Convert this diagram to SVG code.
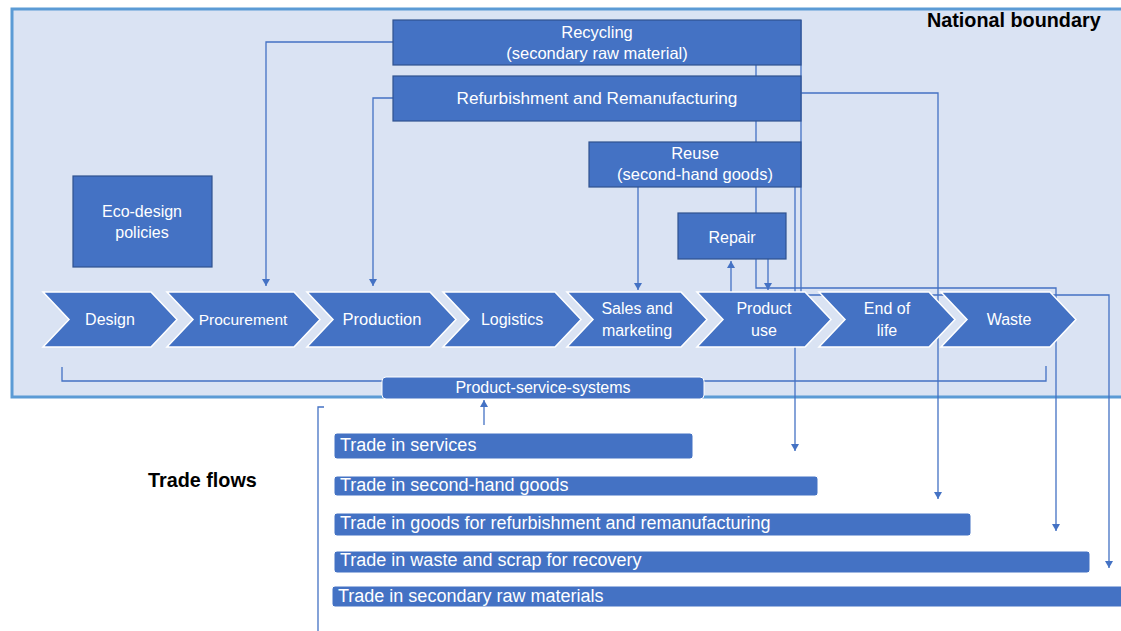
<svg xmlns="http://www.w3.org/2000/svg" width="1121" height="631" viewBox="0 0 1121 631">
<style>
text{font-family:"Liberation Sans",Arial,sans-serif;}
.box{fill:#4472c4;stroke:#2f528f;stroke-width:1.2;}
.chev{fill:#4472c4;stroke:#ffffff;stroke-width:1.5;}
.bar{fill:#4472c4;stroke:#ffffff;stroke-width:1;}
.wt{fill:#ffffff;font-size:16px;text-anchor:middle;}
.bt{fill:#ffffff;font-size:18px;}
.lbl{fill:#000000;font-size:19.8px;font-weight:bold;}
.ln{fill:none;stroke:#4472c4;stroke-width:1.3;}
.arr{fill:none;stroke:#4472c4;stroke-width:1.3;marker-end:url(#ah);}
</style>
<defs>
<marker id="ah" markerUnits="userSpaceOnUse" markerWidth="9" markerHeight="9" refX="7" refY="4" orient="auto">
<path d="M0,0 L7,4 L0,8 Z" fill="#4472c4"/>
</marker>
</defs>
<rect width="1121" height="631" fill="#ffffff"/>
<g id="national-boundary">
<rect x="12" y="9" width="1120" height="388" fill="#dae3f3" stroke="#5b9bd5" stroke-width="3"/>
<text x="927" y="27" class="lbl">National boundary</text>
</g>
<g id="connectors">
<path class="arr" d="M393,42 H266 V286"/>
<path class="arr" d="M393,98 H373 V286"/>
<path class="arr" d="M638,187 V290"/>
<path class="arr" d="M731,292 V261"/>
<path class="arr" d="M768,259 V290"/>
<path class="arr" d="M756,65 V288 H1056 V531"/>
<path class="arr" d="M801,93 H938 V499"/>
<path class="arr" d="M795,187 V451"/>
<path class="arr" d="M801,20 V295 H1109 V568"/>
<path class="ln" d="M62,367 V381 H1046 V366"/>
<path class="arr" d="M484,425 V400"/>
<path class="ln" d="M324,407 H318 V631"/>
</g>
<g id="recycling">
<rect class="box" x="393" y="20" width="408" height="45"/>
<text class="wt" x="597" y="38" style="font-size:16.5px">Recycling</text>
<text class="wt" x="597" y="59" style="font-size:16.5px">(secondary raw material)</text>
</g>
<g id="refurbishment">
<rect class="box" x="393" y="76" width="408" height="45"/>
<text class="wt" x="597" y="104" style="font-size:17.2px">Refurbishment and Remanufacturing</text>
</g>
<g id="reuse">
<rect class="box" x="589" y="142" width="212" height="45"/>
<text class="wt" x="695" y="159" style="font-size:16.5px">Reuse</text>
<text class="wt" x="695" y="180" style="font-size:16.5px">(second-hand goods)</text>
</g>
<g id="repair">
<rect class="box" x="678" y="213" width="108" height="46"/>
<text class="wt" x="732" y="243">Repair</text>
</g>
<g id="eco-design">
<rect class="box" x="73" y="176" width="139" height="91"/>
<text class="wt" x="142" y="217">Eco-design</text>
<text class="wt" x="142" y="238">policies</text>
</g>
<g id="design">
<path class="chev" d="M43,292 H151 L177,319.5 L151,347 H43 L69,319.5 Z"/>
<text class="wt" x="110" y="325">Design</text>
</g>
<g id="procurement">
<path class="chev" d="M167,292 H294 L320,319.5 L294,347 H167 L193,319.5 Z"/>
<text class="wt" x="243" y="325" style="font-size:15.5px">Procurement</text>
</g>
<g id="production">
<path class="chev" d="M307,292 H430 L456,319.5 L430,347 H307 L333,319.5 Z"/>
<text class="wt" x="382" y="325" style="font-size:16.5px">Production</text>
</g>
<g id="logistics">
<path class="chev" d="M443,292 H555 L581,319.5 L555,347 H443 L469,319.5 Z"/>
<text class="wt" x="512" y="325">Logistics</text>
</g>
<g id="sales-marketing">
<path class="chev" d="M567,292 H681 L707,319.5 L681,347 H567 L593,319.5 Z"/>
<text class="wt" x="637" y="314">Sales and</text>
<text class="wt" x="637" y="336">marketing</text>
</g>
<g id="product-use">
<path class="chev" d="M697,292 H805 L831,319.5 L805,347 H697 L723,319.5 Z"/>
<text class="wt" x="764" y="314">Product</text>
<text class="wt" x="764" y="336">use</text>
</g>
<g id="end-of-life">
<path class="chev" d="M819,292 H929 L955,319.5 L929,347 H819 L845,319.5 Z"/>
<text class="wt" x="887" y="314">End of</text>
<text class="wt" x="887" y="336">life</text>
</g>
<g id="waste">
<path class="chev" d="M941,292 H1050 L1076,319.5 L1050,347 H941 L967,319.5 Z"/>
<text class="wt" x="1009" y="325">Waste</text>
</g>
<g id="product-service-systems">
<rect class="bar" x="382" y="377" width="322" height="22" rx="4"/>
<text class="wt" x="543" y="393">Product-service-systems</text>
</g>
<g id="trade-flows-label">
<text x="148" y="487" class="lbl">Trade flows</text>
</g>
<g id="trade-services">
<rect class="bar" x="334" y="433" width="359" height="26" rx="3"/>
<text class="bt" x="340" y="451">Trade in services</text>
</g>
<g id="trade-second-hand">
<rect class="bar" x="334" y="476" width="484" height="20" rx="3"/>
<text class="bt" x="340" y="491">Trade in second-hand goods</text>
</g>
<g id="trade-refurbishment">
<rect class="bar" x="334" y="513" width="637" height="23" rx="3"/>
<text class="bt" x="340" y="529">Trade in goods for refurbishment and remanufacturing</text>
</g>
<g id="trade-waste">
<rect class="bar" x="334" y="551" width="756" height="22" rx="3"/>
<text class="bt" x="340" y="566">Trade in waste and scrap for recovery</text>
</g>
<g id="trade-secondary">
<rect class="bar" x="332" y="586" width="800" height="21" rx="3"/>
<text class="bt" x="338" y="602">Trade in secondary raw materials</text>
</g>
</svg>
